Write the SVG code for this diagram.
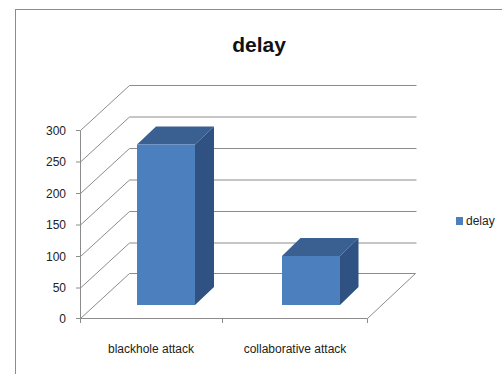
<svg xmlns="http://www.w3.org/2000/svg" width="502" height="374" viewBox="0 0 502 374">
<style>
.g{stroke:#8c8c8c;stroke-width:1;fill:none}
.t{font-family:"Liberation Sans",Arial,sans-serif;font-size:12px;fill:#222}
.front{fill:#4c7fbe}
.top{fill:#3a6091}
.side{fill:#2f5282}
</style>
<rect x="0" y="0" width="502" height="374" fill="#fff"/>
<rect x="15.5" y="9.5" width="500" height="380" fill="#fff" stroke="#8c8c8c"/>
<text x="259" y="52" text-anchor="middle" style="font-family:'Liberation Sans',Arial,sans-serif;font-size:21px;font-weight:bold;fill:#111">delay</text>
<g id="axes">
<path class="g" d="M80.5 130.5V318.5H367.5L415.5 273.5H129.5"/>
<path class="g" d="M129.5 85.5H416.5M129.5 117H416.5M129.5 148.5H416.5M129.5 180H416.5M129.5 211.5H416.5M129.5 243H416.5"/>
<path class="g" d="M80.5 130.5L129.5 85.5M80.5 162L129.5 117M80.5 193.5L129.5 148.5M80.5 225L129.5 180M80.5 256.5L129.5 211.5M80.5 288L129.5 243M80.5 318.5L129.5 273.5"/>
<path class="g" d="M76 130.5H80.5M76 162H80.5M76 193.5H80.5M76 225H80.5M76 256.5H80.5M76 288H80.5M76 318.5H80.5M80.5 318.5V323M222.5 318.5V323M367.5 318.5V323"/>
</g>
<g id="labels">
<text class="t" x="66" y="135" text-anchor="end">300</text>
<text class="t" x="66" y="166" text-anchor="end">250</text>
<text class="t" x="66" y="198" text-anchor="end">200</text>
<text class="t" x="66" y="229" text-anchor="end">150</text>
<text class="t" x="66" y="261" text-anchor="end">100</text>
<text class="t" x="66" y="292" text-anchor="end">50</text>
<text class="t" x="66" y="323" text-anchor="end">0</text>
<text class="t" x="151" y="353" text-anchor="middle">blackhole attack</text>
<text class="t" x="295" y="353" text-anchor="middle">collaborative attack</text>
</g>
<g id="bar-blackhole">
<polygon class="top" points="137,144.5 156,126.5 214,126.5 195,144.5"/>
<polygon class="side" points="195,144.5 214,126.5 214,287 195,305"/>
<rect class="front" x="137" y="144.5" width="58" height="160.5"/>
</g>
<g id="bar-collaborative">
<polygon class="top" points="282,256 300.5,238 358.5,238 340,256"/>
<polygon class="side" points="340,256 358.5,238 358.5,287 340,305"/>
<rect class="front" x="282" y="256" width="58" height="49"/>
</g>
<g id="legend">
<rect x="456" y="217" width="7" height="8" fill="#4c7fbe"/>
<text class="t" x="466" y="225">delay</text>
</g>
</svg>
